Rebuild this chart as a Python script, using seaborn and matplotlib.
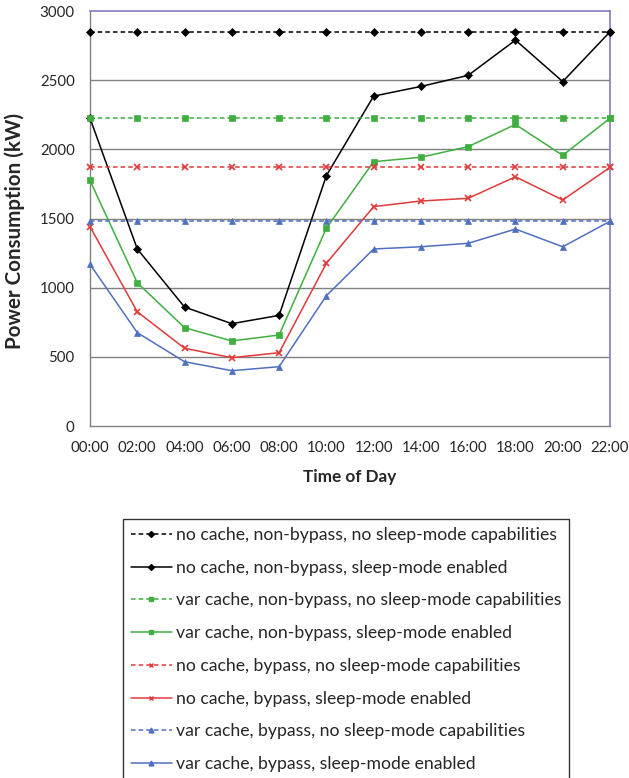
import matplotlib
matplotlib.use("Agg")
import matplotlib.pyplot as plt
import seaborn as sns
import pandas as pd
from matplotlib.lines import Line2D

hours = [0, 2, 4, 6, 8, 10, 12, 14, 16, 18, 20, 22]
hour_labels = ["00:00", "02:00", "04:00", "06:00", "08:00", "10:00",
               "12:00", "14:00", "16:00", "18:00", "20:00", "22:00"]

nc_nb_nosleep = [2850, 2850, 2850, 2850, 2850, 2850, 2850, 2850, 2850, 2850, 2850, 2850]
nc_nb_sleep = [2225, 1280, 860, 740, 800, 1810, 2385, 2455, 2535, 2790, 2490, 2850]
vc_nb_nosleep = [2225, 2225, 2225, 2225, 2225, 2225, 2225, 2225, 2225, 2225, 2225, 2225]
vc_nb_sleep = [1775, 1036, 711, 615, 658, 1430, 1911, 1943, 2020, 2180, 1957, 2225]
nc_b_nosleep = [1870, 1870, 1870, 1870, 1870, 1870, 1870, 1870, 1870, 1870, 1870, 1870]
nc_b_sleep = [1441, 826, 562, 494, 530, 1176, 1586, 1627, 1646, 1802, 1634, 1870]
vc_b_nosleep = [1480, 1480, 1480, 1480, 1480, 1480, 1480, 1480, 1480, 1480, 1480, 1480]
vc_b_sleep = [1169, 675, 465, 400, 429, 942, 1280, 1296, 1321, 1424, 1296, 1480]

series_names = [
    "no cache, non-bypass, no sleep-mode capabilities",
    "no cache, non-bypass, sleep-mode enabled",
    "var cache, non-bypass, no sleep-mode capabilities",
    "var cache, non-bypass, sleep-mode enabled",
    "no cache, bypass, no sleep-mode capabilities",
    "no cache, bypass, sleep-mode enabled",
    "var cache, bypass, no sleep-mode capabilities",
    "var cache, bypass, sleep-mode enabled",
]
series_values = [nc_nb_nosleep, nc_nb_sleep, vc_nb_nosleep, vc_nb_sleep,
                 nc_b_nosleep, nc_b_sleep, vc_b_nosleep, vc_b_sleep]

BLACK = "#000000"
GREEN = "#3FAF3F"
RED = "#E03A3A"
BLUE = "#4F6FBF"
DASH = (0, (3, 2))
styles = [
    dict(color=BLACK, ls=DASH, marker="D", ms=4.5),
    dict(color=BLACK, ls="-", marker="D", ms=4.5),
    dict(color=GREEN, ls=DASH, marker="s", ms=5),
    dict(color=GREEN, ls="-", marker="s", ms=5),
    dict(color=RED, ls=DASH, marker="x", ms=5),
    dict(color=RED, ls="-", marker="x", ms=5),
    dict(color=BLUE, ls=DASH, marker="^", ms=5),
    dict(color=BLUE, ls="-", marker="^", ms=5),
]

sns.set_style("white")
plt.rcParams["font.family"] = ["Lato", "DejaVu Sans"]

fig = plt.figure(figsize=(6.29, 7.78), dpi=100)
ax = fig.add_axes([0.1431, 0.4524, 0.8267, 0.5334])

for y in [500, 1000, 1500, 2000, 2500]:
    ax.axhline(y, color="#808080", lw=1, zorder=0)

handles = []
for name, vals, st in zip(series_names, series_values, styles):
    df = pd.DataFrame({"hour": hours, "kW": vals})
    sns.lineplot(data=df, x="hour", y="kW", ax=ax, color=st["color"],
                 linestyle=st["ls"], marker=st["marker"], markersize=st["ms"],
                 markeredgecolor=st["color"], markerfacecolor=st["color"],
                 markeredgewidth=1.2 if st["marker"] == "x" else 0.5,
                 lw=1.1, clip_on=False, zorder=3)
    handles.append(Line2D([0], [0], color=st["color"], linestyle=st["ls"],
                          marker=st["marker"], markersize=st["ms"] - 1.5,
                          markeredgecolor=st["color"], markerfacecolor=st["color"],
                          lw=1.1))

ax.set_xlim(0, 22)
ax.set_ylim(0, 3000)
ax.set_xticks(hours)
ax.set_xticklabels(hour_labels, fontsize=10.8)
ax.set_yticks([0, 500, 1000, 1500, 2000, 2500, 3000])
ax.set_yticklabels(["0", "500", "1000", "1500", "2000", "2500", "3000"], fontsize=10.8)
ax.tick_params(axis="both", direction="out", length=5, width=1, color="#808080", pad=6)
ax.set_xlabel("Time of Day", fontsize=12.3, fontweight="bold", labelpad=10)
ax.set_ylabel("")
fig.text(15 / 629, 1 - 231 / 778, "Power Consumption (kW)", rotation=90,
         ha="center", va="center", fontsize=14.8, fontweight="bold")

for side in ["left", "bottom"]:
    ax.spines[side].set_color("#808080")
    ax.spines[side].set_linewidth(1)
for side in ["top", "right"]:
    ax.spines[side].set_visible(True)
    ax.spines[side].set_color("#8878C0")
    ax.spines[side].set_linewidth(1.2)

leg = fig.legend(handles, series_names, loc="upper left",
                 bbox_to_anchor=(123 / 629, 1 - 519 / 778), borderaxespad=0,
                 fontsize=12.7, frameon=True, fancybox=False, edgecolor="black",
                 handlelength=2.33, labelspacing=0.95, borderpad=0.45,
                 handletextpad=0.2)
leg.get_frame().set_linewidth(1)

fig.savefig("out.png", dpi=100)
